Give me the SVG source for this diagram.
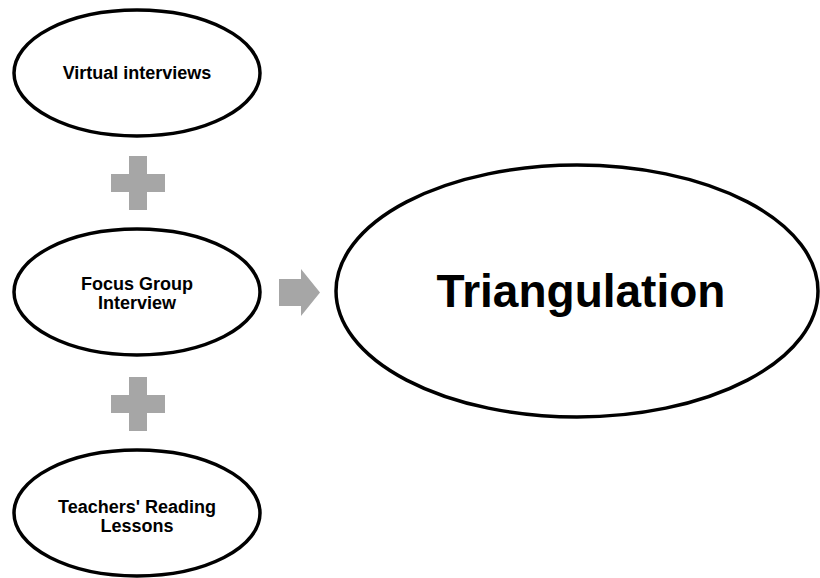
<svg xmlns="http://www.w3.org/2000/svg" width="820" height="578" viewBox="0 0 820 578">
<style>
.node ellipse{fill:#fff;stroke:#000;stroke-width:3.5}
.lbl{font-family:"Liberation Sans",Arial,sans-serif;font-weight:bold;font-size:18px;fill:#000;text-anchor:middle}
.big{font-size:46px}
.sym{fill:#a6a6a6}
</style>
<rect width="820" height="578" fill="#fff"/>
<g id="virtual-interviews" class="node">
<ellipse cx="137" cy="73" rx="123" ry="63"/>
<text class="lbl" x="137" y="79">Virtual interviews</text>
</g>
<g id="focus-group" class="node">
<ellipse cx="137" cy="292" rx="123" ry="63"/>
<text class="lbl" x="137" y="290">Focus Group</text>
<text class="lbl" x="137" y="309">Interview</text>
</g>
<g id="teachers-reading" class="node">
<ellipse cx="137" cy="513" rx="123" ry="63"/>
<text class="lbl" x="137" y="513">Teachers' Reading</text>
<text class="lbl" x="137" y="532">Lessons</text>
</g>
<g id="triangulation" class="node">
<ellipse cx="577" cy="291" rx="241" ry="126"/>
<text class="lbl big" x="581" y="307">Triangulation</text>
</g>
<g id="connectors">
<path class="sym" d="M129 156H147V174H165V192H147V210H129V192H111V174H129Z"/>
<path class="sym" d="M129 377H147V395H165V413H147V431H129V413H111V395H129Z"/>
<path class="sym" d="M279 279H301V269L320 292.5L301 316V306H279Z"/>
</g>
</svg>
